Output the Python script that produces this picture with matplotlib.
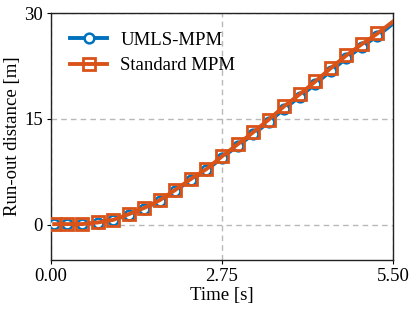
import numpy as np
import matplotlib.pyplot as plt

plt.rcParams['font.family'] = ['Liberation Serif', 'DejaVu Serif']
plt.rcParams['mathtext.fontset'] = 'stix'

# time [s] and run-out distance [m]
time = [0.05, 0.25, 0.5, 0.75, 1.0, 1.25, 1.5, 1.75, 2.0, 2.25, 2.5, 2.75,
        3.0, 3.25, 3.5, 3.75, 4.0, 4.25, 4.5, 4.75, 5.0, 5.25, 5.5]
standard = [0.1, 0.1, 0.1, 0.33, 0.7, 1.5, 2.4, 3.5, 4.95, 6.5, 7.9, 9.7,
            11.4, 13.1, 14.9, 16.8, 18.5, 20.3, 22.2, 24.0, 25.6, 27.1, 28.8]
umls = [0.05, 0.05, 0.05, 0.3, 0.65, 1.45, 2.3, 3.4, 4.85, 6.35, 7.75, 9.5,
        11.2, 12.8, 14.55, 16.45, 18.15, 19.95, 21.8, 23.6, 25.25, 26.75, 28.5]

blue = '#0072BD'
orange = '#D95319'

fig = plt.figure(figsize=(4.15, 3.1), dpi=100)
ax = fig.add_axes([0.123, 0.161, 0.824, 0.797])

mk = list(range(len(time) - 1))
ax.plot(time, umls, color=blue, lw=2.8, marker='o', ms=7, mew=1.8,
        mfc='white', markevery=mk, label='UMLS-MPM', zorder=3)
ax.plot(time, standard, color=orange, lw=2.8, marker='s', ms=9, mew=2.0,
        mfc='none', markevery=mk, label='Standard MPM', zorder=4)

ax.set_xlim(0, 5.5)
ax.set_ylim(-5, 30)
ax.set_xticks([0, 2.75, 5.5])
ax.set_xticklabels(['0.00', '2.75', '5.50'])
ax.set_yticks([0, 15, 30])
ax.grid(True, ls=(0, (4, 3)), color='#b8b8b8', lw=1)
ax.tick_params(labelsize=13.5, length=3, width=0.8, pad=3)
for s in ax.spines.values():
    s.set_linewidth(1.0)
    s.set_color('#222222')

ax.set_xlabel('Time [s]', fontsize=13.5, labelpad=1)
ax.set_ylabel('Run-out distance [m]', fontsize=13.5, labelpad=2)
leg = ax.legend(loc='upper left', frameon=False, fontsize=13.5, handlelength=2.0,
                borderaxespad=0.5, labelspacing=0.45, handletextpad=0.7,
                borderpad=0.5)

fig.savefig('out.png', dpi=100)
